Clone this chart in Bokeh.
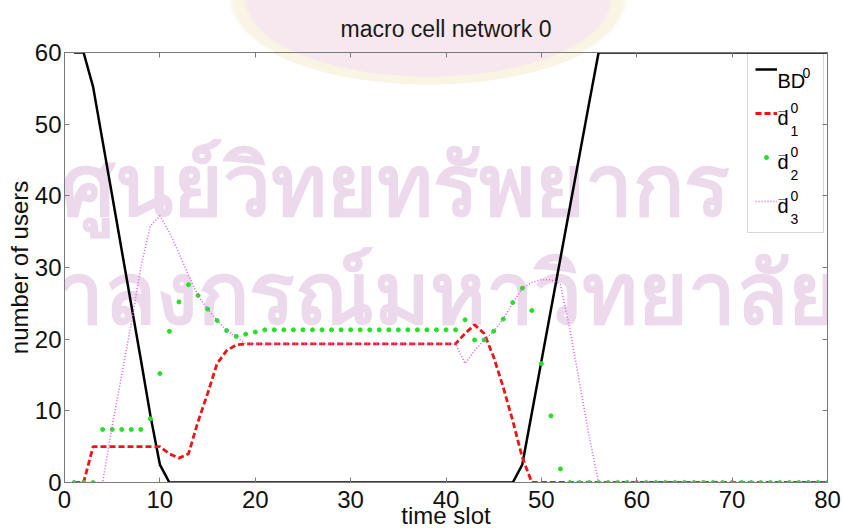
import numpy as np
from bokeh.plotting import figure
from bokeh.models import (Range1d, LinearAxis, Legend, LegendItem, Label, FixedTicker,
                          ColumnDataSource, PolyAnnotation, BoxAnnotation)
from bokeh.embed import file_html
from bokeh.resources import INLINE

# time slots
t = list(range(1, 81))

# BD^0 : blocked demand in macro cell 0
bd = ([60, 60, 55.2, 47.6, 40.0, 32.4, 24.8, 17.2, 9.4, 2.5]
      + [0] * 37
      + [2.5, 9.7, 16.9, 24.1, 31.3, 38.5, 45.7, 52.9]
      + [60] * 25)

# d1^0
d1 = ([0, 0, 5, 5, 5, 5, 5, 5, 5, 5, 4.0, 3.4, 4.0, 8.5, 12.4, 16.6, 18.4, 19.2]
      + [19.35] * 23
      + [20.8, 22.0, 20.8, 17.5, 13.3, 8.6, 3.5]
      + [0] * 32)

# d2^0
d2 = ([0, 0, 0, 7.4, 7.4, 7.4, 7.4, 7.4, 8.9, 15.2, 21.1, 25.2, 27.6, 26.1, 24.2,
       22.6, 21.2, 20.4, 20.7, 21.0]
      + [21.3] * 21
      + [22.7, 19.9, 19.9, 21.1, 22.8, 25.1, 27.1, 24.0, 16.6, 9.3, 1.9]
      + [0] * 28)

# d3^0
d3 = ([0, 0, 0, 0, 7.9, 15.0, 22.2, 30.0, 35.8, 37.2, 34.9, 32.0, 28.9, 26.1, 24.2,
       22.6, 21.2, 20.3]
      + [19.35] * 23
      + [16.6, 18.4, 19.9, 21.1, 22.8, 25.1, 27.1, 27.9, 28.3, 28.3, 27.6, 21.3, 13.9, 6.5]
      + [0] * 25)

x_ticks = [0, 10, 20, 30, 40, 50, 60, 70, 80]
y_ticks = [0, 10, 20, 30, 40, 50, 60]

src = ColumnDataSource(dict(t=t, bd=bd, d1=d1, d2=d2, d3=d3))

FONT = "Liberation Sans"
AX = "#7a7a7a"
PINK, CREAM = "#f7e7ee", "#f9f4e4"

p = figure(frame_width=763, frame_height=430,
           min_border_left=64, min_border_right=16, min_border_top=52, min_border_bottom=49,
           x_range=Range1d(0, 80), y_range=Range1d(0, 60),
           output_backend="svg", toolbar_location=None,
           background_fill_color="white", border_fill_color="white", border_fill_alpha=0)
# crest tint behind the title, outside the plotting frame
p.styles = {"background": f"radial-gradient(ellipse 200px 84px at 428px 0px, {PINK} 0%, "
                          f"{PINK} 90%, {CREAM} 92%, {CREAM} 97%, #ffffff 100%)"}
p.grid.visible = False
p.outline_line_color = AX

p.title.text = "macro cell network 0"
p.title.align = "center"
p.title.text_font = FONT
p.title.text_font_size = "23px"
p.title.text_font_style = "normal"
p.title.text_color = "#1a1a1a"
p.title.standoff = 21

# the same crest where it reaches into the frame
ang = np.linspace(0, np.pi, 60)
for rx, ry, col in [(200, 84, CREAM), (182, 76, PINK)]:
    p.add_layout(PolyAnnotation(xs=list(428 + rx * np.cos(ang)), ys=list(ry * np.sin(ang)),
                                xs_units="canvas", ys_units="canvas",
                                fill_color=col, fill_alpha=1, line_color=None,
                                level="underlay"))

# Thai watermark behind the data
for txt, cx, cy in [("ศูนย์วิทยทรัพยากร", 60 - 64, 482 - 185),
                    ("จุฬาลงกรณ์มหาวิทยาลัย", -53 - 64, 482 - 293)]:
    p.add_layout(Label(x=cx, y=cy, x_units="screen", y_units="screen", text=txt,
                       text_font_size="85px", text_font_style="bold",
                       text_color="#ecdaec", text_baseline="middle", level="underlay"))

for ax in (p.xaxis[0], p.yaxis[0]):
    ax.axis_line_color = AX
    ax.major_tick_line_color = AX
    ax.major_tick_in = 5
    ax.major_tick_out = 0
    ax.minor_tick_line_color = None
    ax.major_label_text_font = FONT
    ax.major_label_text_font_size = "24px"
    ax.major_label_text_color = "#111111"
    ax.axis_label_text_font = FONT
    ax.axis_label_text_font_size = "24px"
    ax.axis_label_text_font_style = "normal"
    ax.axis_label_text_color = "#111111"

p.xaxis.ticker = FixedTicker(ticks=x_ticks)
p.yaxis.ticker = FixedTicker(ticks=y_ticks)
p.xaxis.axis_label = "time slot"
p.yaxis.axis_label = "number of users"
p.xaxis.major_label_standoff = 8
p.xaxis.axis_label_standoff = -9
p.yaxis.major_label_standoff = 3
p.yaxis.axis_label_standoff = -1

# mirrored ticks on the top and right edges
top_ax = LinearAxis(ticker=FixedTicker(ticks=x_ticks))
right_ax = LinearAxis(ticker=FixedTicker(ticks=y_ticks))
for ax in (top_ax, right_ax):
    ax.axis_line_color = AX
    ax.major_tick_line_color = AX
    ax.major_tick_in = 5
    ax.major_tick_out = 0
    ax.minor_tick_line_color = None
    ax.major_label_text_font_size = "0px"
    ax.major_label_standoff = 0
p.add_layout(top_ax, "above")
p.add_layout(right_ax, "right")

# legend box (canvas pixels, top-left origin)
p.add_layout(BoxAnnotation(left=747, right=823, top=53, bottom=232,
                           left_units="canvas", right_units="canvas",
                           top_units="canvas", bottom_units="canvas",
                           fill_color="white", fill_alpha=1,
                           line_color=AX, line_width=1, level="underlay"))

r_bd = p.line("t", "bd", source=src, line_color="black", line_width=2.5)
r_d1 = p.line("t", "d1", source=src, line_color="#ee1515", line_width=2.8, line_dash="6 3")
r_d2 = p.scatter("t", "d2", source=src, marker="circle", size=4,
                 fill_color="#22e022", line_color="#22e022")
r_d3 = p.line("t", "d3", source=src, line_color="#e060e0", line_width=1.6, line_dash="1 2")

# legend samples only; the label texts are placed below
legend = Legend(items=[LegendItem(label=" ", renderers=[r_bd]),
                       LegendItem(label=" ", renderers=[r_d1]),
                       LegendItem(label=" ", renderers=[r_d2]),
                       LegendItem(label=" ", renderers=[r_d3])],
                location="top_right", margin=2, padding=4, spacing=14,
                glyph_width=22, glyph_height=10, label_height=30, label_width=44,
                label_standoff=4, label_text_font=FONT, label_text_font_size="20px",
                border_line_color=None, background_fill_alpha=0)
p.add_layout(legend)

# legend label texts: BD^0 and bar-d with sub/superscripts
FL, FB = 64, 482
centers = [73, 117, 161, 205]


def put(s, cx, cy, size):
    p.add_layout(Label(x=cx - FL, y=FB - cy, x_units="screen", y_units="screen", text=s,
                       text_font=FONT, text_font_size=size, text_color="black",
                       text_align="left", text_baseline="middle", level="overlay"))


put("BD", 777, 80, "20px")
put("0", 802, 72, "14px")
for k, c in enumerate(centers[1:], start=1):
    put("d", 777, c, "20px")
    put("\u00af", 778, c - 1, "15px")
    put("0", 790, c - 10, "14px")
    put(str(k), 790, c + 13, "14px")

open("out.html", "w").write(file_html(p, INLINE))
